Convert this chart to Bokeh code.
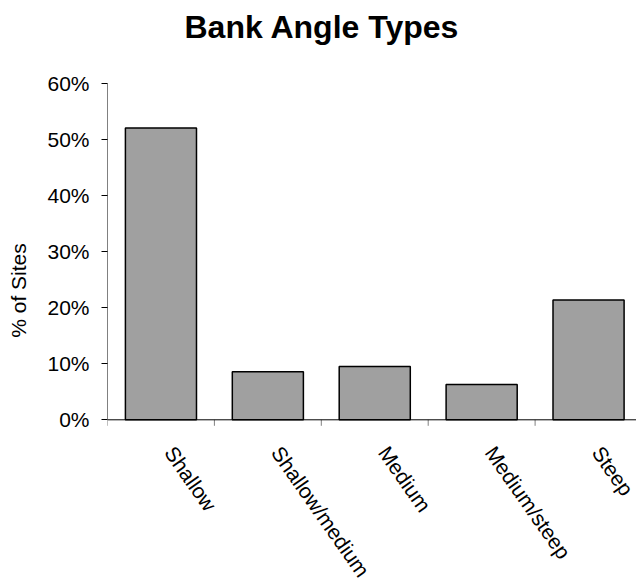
import math
from bokeh.plotting import figure
from bokeh.models import (ColumnDataSource, Range1d, FixedTicker, PrintfTickFormatter,
                          Label, Span)
from bokeh.core.properties import value
from bokeh.embed import file_html
from bokeh.resources import INLINE

# Share of surveyed sites by bank angle class (percent)
categories = ["Shallow", "Shallow/medium", "Medium", "Medium/steep", "Steep"]
site_share = [52.1, 8.6, 9.5, 6.3, 21.4]
y_ticks = [0, 10, 20, 30, 40, 50, 60]

FONT = "Liberation Sans"
W, H = 636, 580
LEFT = 107                 # width of the y-axis panel
PX_PER_PCT = 5.6           # vertical scale in pixels per percent
ZERO_Y = 419.3             # canvas row of the 0% baseline
CAT_PX = 106.9             # horizontal pixels per category

positions = list(range(len(categories)))
boundaries = [i - 0.5 for i in range(len(categories))]

bars = ColumnDataSource(data=dict(x=positions, share=site_share))
names = ColumnDataSource(data=dict(x=positions, y=[0] * len(categories), name=categories))
ticks = ColumnDataSource(data=dict(x=boundaries, y=[0] * len(boundaries)))

# The plot frame fills the whole canvas to the right of the y axis so the
# rotated category names and the title can sit outside the 0-60 % band.
y_lo = -(H - ZERO_Y) / PX_PER_PCT
y_hi = 60 + (ZERO_Y - 60 * PX_PER_PCT) / PX_PER_PCT
x_hi = -0.5 + (W - LEFT) / CAT_PX

p = figure(width=W, height=H, output_backend="svg", toolbar_location=None,
           x_range=Range1d(-0.5, x_hi), y_range=Range1d(y_lo, y_hi),
           min_border_left=LEFT, min_border_right=0, min_border_top=0,
           min_border_bottom=0)
p.outline_line_color = None
p.xgrid.grid_line_color = None
p.ygrid.grid_line_color = None
p.background_fill_color = "white"
p.border_fill_color = "white"
p.xaxis.visible = False

p.vbar(x="x", top="share", bottom=0, width=0.665, source=bars,
       fill_color="#a0a0a0", line_color="black", line_width=1.5)

# category axis: baseline, separators between categories, rotated names
p.add_layout(Span(location=0, dimension="width", line_color="black", line_width=1))
p.ray(x="x", y="y", length=6, length_units="screen", angle=-math.pi / 2,
      source=ticks, line_color="#808080", line_width=1)
p.text(x="x", y="y", text="name", source=names, angle=-0.96,
       text_align="left", text_baseline="top", x_offset=18, y_offset=22,
       text_font=value(FONT), text_font_size=value("21px"), text_color="black")

# y axis: percentage ticks
ya = p.yaxis[0]
ya.bounds = (0, 60)
ya.ticker = FixedTicker(ticks=y_ticks)
ya.formatter = PrintfTickFormatter(format="%d%%")
ya.axis_line_color = "#808080"
ya.axis_line_width = 1
ya.major_tick_line_color = "black"
ya.major_tick_out = 6
ya.major_tick_in = 0
ya.minor_tick_line_color = None
ya.major_label_text_font = FONT
ya.major_label_text_font_size = "21px"
ya.major_label_text_color = "black"
ya.major_label_standoff = 12
ya.axis_label = "% of Sites"
ya.axis_label_text_font = FONT
ya.axis_label_text_font_size = "21px"
ya.axis_label_text_font_style = "normal"
ya.axis_label_text_color = "black"
ya.axis_label_standoff = 14

title = Label(x=321.5 - LEFT, y=H - 26.5, x_units="screen", y_units="screen",
              text="Bank Angle Types", text_font=FONT, text_font_size="32px",
              text_font_style="bold", text_color="black", text_align="center",
              text_baseline="alphabetic")
p.add_layout(title)

open("out.html", "w").write(file_html(p, INLINE))
